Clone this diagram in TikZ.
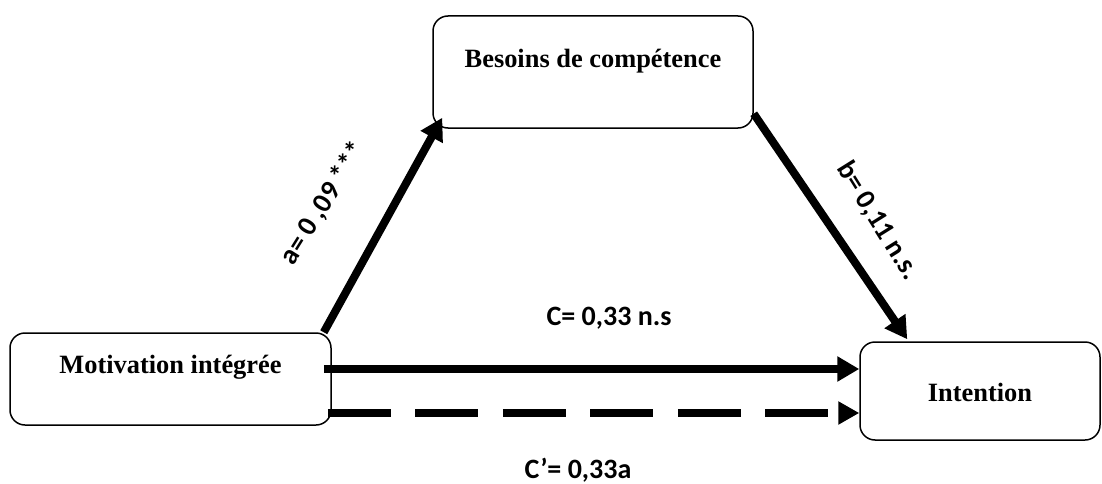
\documentclass[tikz,border=0pt]{standalone}
\usepackage{fontspec}
\setmainfont{Liberation Serif}
\newfontfamily\carlito{Carlito}
\usetikzlibrary{arrows.meta}

\begin{document}
\begin{tikzpicture}[x=1pt,y=1pt,
	box/.style={draw, line width=1.5pt, rounded corners=15pt, inner sep=0pt, font=\fontsize{26.4}{30}\selectfont\bfseries},
	path/.style={line width=8pt, -{Triangle[length=22pt,width=24pt]}},
	coef/.style={font=\fontsize{28}{32}\selectfont\carlito\bfseries}]

	\useasboundingbox (0,0) rectangle (1102,483);

	% Three variables
	\node (mot)[box, minimum width=321pt, minimum height=92pt, text height=18pt, text depth=30pt] at (170.5,104) {Motivation intégrée};
	\node (bes)[box, minimum width=320pt, minimum height=112pt, text height=18pt, text depth=26pt] at (593,411) {Besoins de compétence};
	\node (int)[box, minimum width=240pt, minimum height=98pt, text height=26pt, text depth=6pt] at (980,92) {Intention};

	% Paths a and b
	\draw [path] ([xshift=-8pt]mot.north east) -- ([shift={(10pt,11pt)}]bes.south west);
	\draw [path] ([yshift=15pt]bes.south east) -- ([shift={(48pt,2pt)}]int.north west);
	% direct paths
	\draw [path] ([shift={(-8pt,10pt)}]mot.east) -- ([yshift=10pt]mot.east -| int.west);
	\draw [path, dash pattern=on 63pt off 24.5pt, -{Triangle[length=21pt,width=22pt]}] ([shift={(-4pt,-34pt)}]mot.east) -- ([yshift=-34pt]mot.east -| int.west);

	% Coefficients
	\node (ca)[coef, anchor=base] at (609,158) {C= 0,33 n.s};
	\node (cb)[coef, anchor=base] at (578,5) {C’= 0,33a};
	\node (la)[coef, rotate=58] at (323.5,279.5) {a= 0 ,09 ***};
	\node (lb)[coef, rotate=-58] at (878,262) {b= 0,11 n.s.};

\end{tikzpicture}
\end{document}
